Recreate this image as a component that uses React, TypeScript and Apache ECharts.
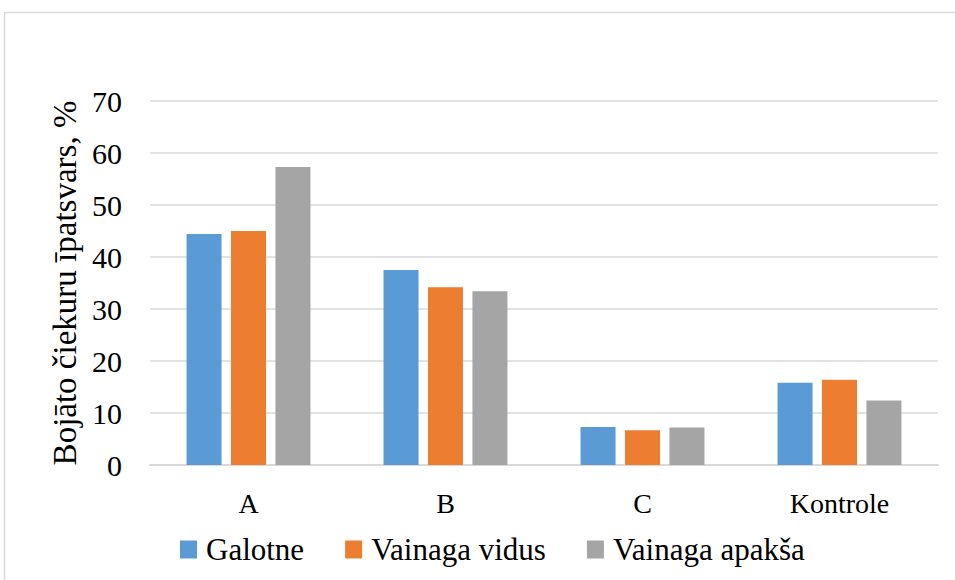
import React, { useEffect, useRef } from "react";
import * as echarts from "echarts";

const categories = ["A", "B", "C", "Kontrole"];
const seriesNames = ["Galotne", "Vainaga vidus", "Vainaga apakša"];
const galotne = [44.4, 37.5, 7.3, 15.8];
const vainagaVidus = [45.0, 34.2, 6.7, 16.4];
const vainagaApaksa = [57.3, 33.4, 7.2, 12.4];
const yTicks = [0, 10, 20, 30, 40, 50, 60, 70];
const yTitle = "Bojāto čiekuru īpatsvars, %";

const colors = ["#5b9bd5", "#ed7d31", "#a5a5a5"];
const FONT = "Liberation Serif";

export default function App() {
  const ref = useRef<HTMLDivElement>(null);
  useEffect(() => {
    if (!ref.current) return;
    const chart = echarts.init(ref.current, null, { renderer: "svg" });
    const values = [galotne, vainagaVidus, vainagaApaksa];
    chart.setOption({
      animation: false,
      backgroundColor: "#ffffff",
      graphic: [
        {
          type: "rect",
          shape: { x: 4.5, y: 12.5, width: 1000, height: 620 },
          style: { fill: "none", stroke: "#d9d9d9", lineWidth: 1.5 },
          silent: true,
          z: -1,
        },
      ],
      grid: { left: 150, right: 17, top: 101, bottom: 115, containLabel: false },
      legend: {
        data: seriesNames,
        left: 175,
        top: 529,
        icon: "rect",
        itemWidth: 17,
        itemHeight: 18,
        itemGap: 41,
        textStyle: {
          fontFamily: FONT,
          fontSize: 31,
          color: "#000000",
          padding: [0, 0, 0, 4],
        },
      },
      xAxis: {
        type: "category",
        data: categories,
        axisLine: { lineStyle: { color: "#d9d9d9", width: 2 } },
        axisTick: { show: false },
        axisLabel: { fontFamily: FONT, fontSize: 28, color: "#000000", margin: 24 },
      },
      yAxis: {
        type: "value",
        min: yTicks[0],
        max: yTicks[yTicks.length - 1],
        interval: 10,
        name: yTitle,
        nameLocation: "middle",
        nameGap: 68,
        nameTextStyle: { fontFamily: FONT, fontSize: 33, color: "#000000" },
        axisLine: { show: false },
        axisTick: { show: false },
        splitLine: { lineStyle: { color: "#d9d9d9", width: 1.5 } },
        axisLabel: { fontFamily: FONT, fontSize: 30, color: "#000000", margin: 28 },
      },
      series: seriesNames.map((name, i) => ({
        name,
        type: "bar",
        data: values[i],
        barWidth: 35,
        barGap: "27%",
        itemStyle: { color: colors[i] },
      })),
    });
    return () => chart.dispose();
  }, []);
  return (
    <div
      ref={ref}
      style={{ position: "fixed", left: 0, top: 0, width: 955, height: 580 }}
    />
  );
}
